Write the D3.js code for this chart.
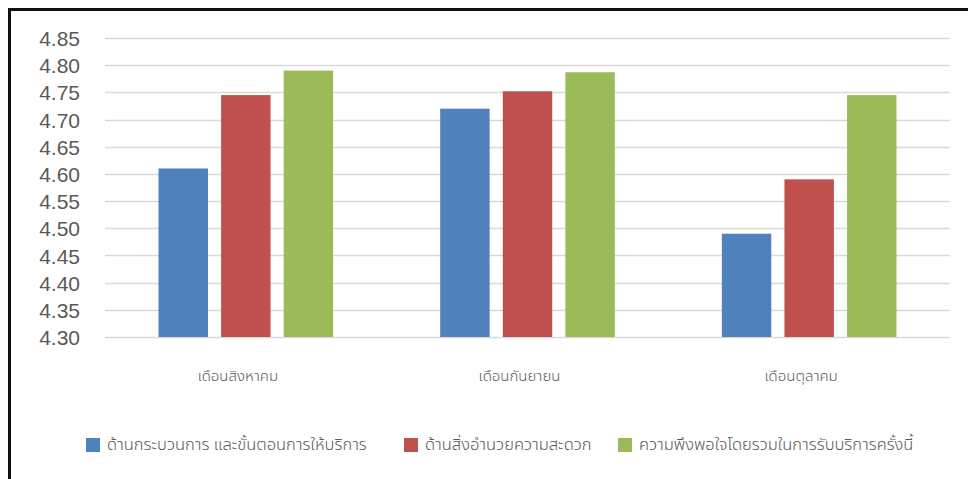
<!DOCTYPE html>
<html>
<head>
<meta charset="utf-8">
<script src="https://cdn.jsdelivr.net/npm/d3@7"></script>
<style>
  html, body { margin: 0; padding: 0; background: #fff; }
  svg { display: block; }
</style>
</head>
<body>
<svg id="chart" width="968" height="479"></svg>
<script>
const categories = ["เดือนสิงหาคม", "เดือนกันยายน", "เดือนตุลาคม"];
const seriesNames = [
  "ด้านกระบวนการ และขั้นตอนการให้บริการ",
  "ด้านสิ่งอำนวยความสะดวก",
  "ความพึงพอใจโดยรวมในการรับบริการครั้งนี้"
];
const seriesProcess = [4.61, 4.72, 4.49];
const seriesFacility = [4.745, 4.752, 4.59];
const seriesOverall = [4.79, 4.787, 4.745];
const yTicks = [4.30, 4.35, 4.40, 4.45, 4.50, 4.55, 4.60, 4.65, 4.70, 4.75, 4.80, 4.85];
const colors = ["#4f81bd", "#c0504d", "#9bbb59"];

const seriesValues = [seriesProcess, seriesFacility, seriesOverall];
const svg = d3.select("#chart");

// frame
svg.append("line").attr("x1", 8).attr("x2", 968).attr("y1", 9.5).attr("y2", 9.5)
  .attr("stroke", "#111").attr("stroke-width", 3);
svg.append("line").attr("x1", 9.5).attr("x2", 9.5).attr("y1", 8).attr("y2", 479)
  .attr("stroke", "#111").attr("stroke-width", 3);

const plot = { left: 105, right: 950, top: 38, bottom: 337 };
const y = d3.scaleLinear().domain([4.30, 4.85]).range([plot.bottom, plot.top]);
const x0 = d3.scaleBand().domain(categories).range([plot.left, plot.right]).paddingInner(0.38).paddingOuter(0.19);
const x1 = d3.scaleBand().domain(d3.range(3)).range([0, x0.bandwidth()]).paddingInner(0.21);

// gridlines
svg.append("g").selectAll("line").data(yTicks).join("line")
  .attr("x1", plot.left).attr("x2", plot.right)
  .attr("y1", d => Math.round(y(d)) + 0.5).attr("y2", d => Math.round(y(d)) + 0.5)
  .attr("stroke", "#d9d9d9").attr("stroke-width", 1.5);

// y axis labels
const yAxis = d3.axisLeft(y).tickValues(yTicks).tickFormat(d3.format(".2f")).tickSize(0).tickPadding(0);
const ya = svg.append("g").attr("transform", "translate(80,0)").call(yAxis);
ya.select(".domain").remove();
ya.selectAll("text").attr("fill", "#595959").attr("font-family", "'Liberation Sans', Arial, sans-serif")
  .attr("font-size", 21).attr("dy", "0.36em");

// bars
const groups = svg.append("g").selectAll("g").data(categories).join("g")
  .attr("transform", d => `translate(${x0(d)},0)`);
groups.selectAll("rect").data((c, i) => seriesValues.map((s, k) => ({ k, v: s[i] }))).join("rect")
  .attr("x", d => x1(d.k)).attr("width", x1.bandwidth())
  .attr("y", d => y(d.v)).attr("height", d => y(4.30) - y(d.v))
  .attr("fill", d => colors[d.k]);

// x axis labels
const xAxis = d3.axisBottom(x0).tickSize(0).tickPadding(0);
const xa = svg.append("g").attr("transform", `translate(-8,${plot.bottom + 33})`).call(xAxis);
xa.select(".domain").remove();
xa.selectAll("text").attr("fill", "#595959")
  .attr("font-family", "'Noto Sans Thai', 'Noto Sans', 'DejaVu Sans', sans-serif")
  .attr("font-size", 15).attr("font-weight", 300);

// legend
const legendX = [86, 404, 618];
const legend = svg.append("g").selectAll("g").data(seriesNames).join("g")
  .attr("transform", (d, i) => `translate(${legendX[i]},438)`);
legend.append("rect").attr("width", 14).attr("height", 14).attr("fill", (d, i) => colors[i]);
legend.append("text").attr("x", 21).attr("y", 6).attr("dy", "0.35em")
  .attr("fill", "#595959").attr("font-size", 16.5).attr("font-weight", 300)
  .attr("font-family", "'Noto Sans Thai', 'Noto Sans', 'DejaVu Sans', sans-serif")
  .text(d => d);
</script>
</body>
</html>
